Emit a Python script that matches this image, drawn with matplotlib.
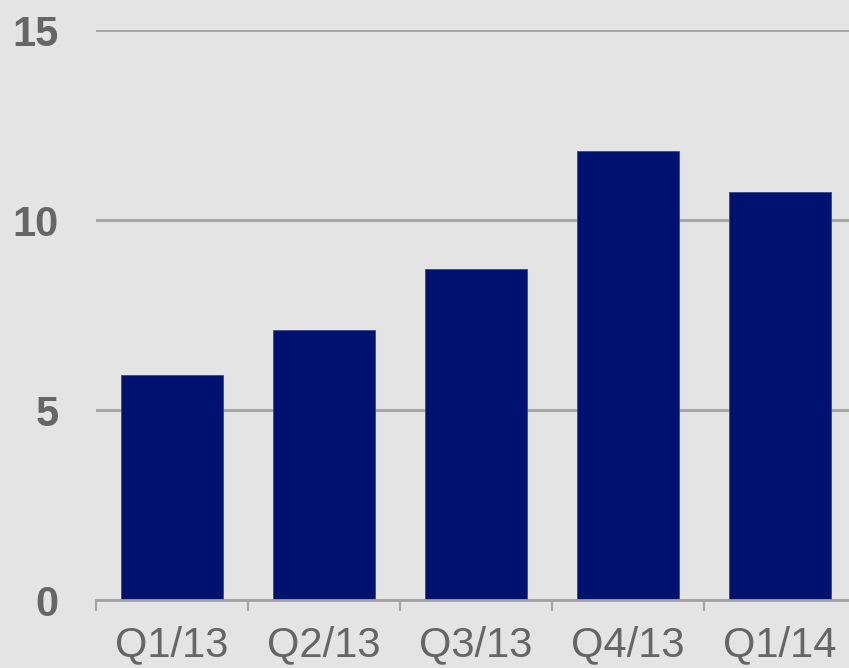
import matplotlib
matplotlib.use('Agg')
import matplotlib.pyplot as plt
import numpy as np

categories = ['Q1/13', 'Q2/13', 'Q3/13', 'Q4/13', 'Q1/14']
values = [5.92, 7.1, 8.71, 11.82, 10.74]
y_ticks = [0, 5, 10, 15]

plt.rcParams['font.family'] = ['Liberation Sans', 'DejaVu Sans']

bg = '#e4e4e4'
grid_col = '#a3a3a3'
text_col = '#666666'

fig = plt.figure(figsize=(8.49, 6.68), dpi=100, facecolor=bg)
# axes run slightly past the right edge, like in the source
ax = fig.add_axes([96 / 849, 68 / 668, 760 / 849, 570 / 668])
ax.set_facecolor(bg)

x = np.arange(len(categories))
ax.bar(x, values, width=2 / 3, color='#001270', edgecolor='#3a4a8a', linewidth=0.6, zorder=3)

ax.set_xlim(-0.5, len(categories) - 0.5)
ax.set_ylim(0, 15)
ax.set_yticks(y_ticks)
ax.set_yticklabels([str(t) for t in y_ticks], fontsize=30, fontweight='bold', color=text_col)
ax.yaxis.grid(True, color=grid_col, linewidth=2, zorder=1)
ax.tick_params(axis='y', length=0, pad=27)

ax.set_xticks(x)
ax.set_xticklabels(categories, fontsize=30, color=text_col)
ax.set_xticks(np.arange(len(categories) + 1) - 0.5, minor=True)
ax.tick_params(axis='x', which='major', length=0, pad=18)
ax.tick_params(axis='x', which='minor', length=8, width=1.5, color=grid_col)

for side in ['top', 'right', 'left']:
    ax.spines[side].set_visible(False)
ax.spines['bottom'].set_color(grid_col)
ax.spines['bottom'].set_linewidth(2)
ax.spines['bottom'].set_zorder(4)

fig.savefig('out.png', dpi=100, facecolor=bg)
